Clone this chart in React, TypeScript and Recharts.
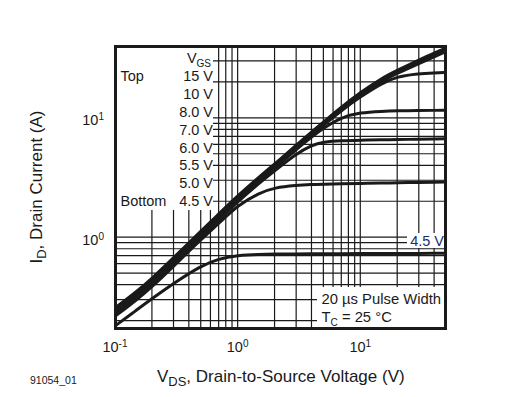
import React from 'react'
import { LineChart, Line, XAxis, YAxis, ReferenceLine } from 'recharts'

const FONT = '"Liberation Sans", Arial, Helvetica, sans-serif'
const INK = '#1a1a1a'

// drain-source voltage (V)
const VDS = [0.1, 0.15, 0.2, 0.3, 0.5, 0.7, 1, 1.5, 2, 3, 4, 5, 7, 10, 15, 20, 30, 40, 50]

// drain current (A) for each gate voltage
const ID_15V = [0.255, 0.35, 0.45, 0.67, 1.12, 1.56, 2.22, 3.2, 4.1, 5.9, 7.6, 9.2, 12.3, 16.3, 21.5, 25, 30.5, 35, 38.5]
const ID_10V = [0.25, 0.343, 0.441, 0.657, 1.098, 1.53, 2.18, 3.14, 4.02, 5.78, 7.45, 9.0, 12.05, 16.0, 21.0, 24.4, 29.6, 33.8, 37.2]
const ID_8V = [0.245, 0.336, 0.432, 0.643, 1.075, 1.5, 2.13, 3.07, 3.94, 5.66, 7.3, 8.83, 11.8, 15.6, 20.4, 23.6, 28.5, 32.5, 36]
const ID_7V = [0.24, 0.329, 0.423, 0.63, 1.053, 1.466, 2.09, 3.01, 3.85, 5.55, 7.14, 8.65, 11.5, 15.0, 19.5, 22.2, 23.5, 23.8, 24]
const ID_6V = [0.235, 0.322, 0.414, 0.616, 1.03, 1.435, 2.04, 2.94, 3.77, 5.43, 6.9, 8.2, 10.1, 11.1, 11.35, 11.45, 11.5, 11.55, 11.6]
const ID_55V = [0.227, 0.312, 0.4, 0.596, 0.997, 1.39, 1.98, 2.85, 3.6, 5.0, 5.9, 6.3, 6.45, 6.5, 6.55, 6.58, 6.62, 6.66, 6.7]
const ID_5V = [0.217, 0.298, 0.383, 0.57, 0.95, 1.3, 1.85, 2.35, 2.6, 2.72, 2.76, 2.78, 2.8, 2.82, 2.84, 2.86, 2.88, 2.89, 2.9]
const ID_45V = [0.18, 0.245, 0.305, 0.41, 0.575, 0.66, 0.705, 0.718, 0.722, 0.724, 0.725, 0.726, 0.727, 0.728, 0.729, 0.73, 0.731, 0.733, 0.735]

const SERIES = [
  { key: 'v15', values: ID_15V },
  { key: 'v10', values: ID_10V },
  { key: 'v8', values: ID_8V },
  { key: 'v7', values: ID_7V },
  { key: 'v6', values: ID_6V },
  { key: 'v55', values: ID_55V },
  { key: 'v5', values: ID_5V },
  { key: 'v45', values: ID_45V },
]

const X_TICKS = [0.1, 1, 10]
const Y_TICKS = [1, 10]
const X_GRID = [0.2, 0.3, 0.4, 0.5, 0.6, 0.7, 0.8, 0.9, 1, 2, 3, 4, 5, 6, 7, 8, 9, 10, 20, 30, 40]
const Y_GRID = [0.2, 0.3, 0.4, 0.5, 0.6, 0.7, 0.8, 0.9, 1, 2, 3, 4, 5, 6, 7, 8, 9, 10, 20, 30]

const VGS_LABELS = ['15 V', '10 V', '8.0 V', '7.0 V', '6.0 V', '5.5 V', '5.0 V', '4.5 V']

const PowerTick = (props: any) => {
  const { x, y, payload, axis } = props
  const exp = Math.round(Math.log10(payload.value))
  const isX = axis === 'x'
  return (
    <text
      x={isX ? x : x - 9}
      y={isX ? y + 21 : y + 7.5}
      textAnchor={isX ? 'middle' : 'end'}
      fontFamily={FONT}
      fontSize={14.5}
      fill={INK}
    >
      <tspan>10</tspan>
      <tspan dy={-5} fontSize={10}>{exp}</tspan>
    </text>
  )
}

const sub = (size: number, drop: number): React.CSSProperties => ({
  fontSize: size,
  position: 'relative',
  top: drop,
})

export default function App() {
  const data = VDS.map((v, i) => {
    const row: Record<string, number> = { vds: v }
    SERIES.forEach(s => { row[s.key] = s.values[i] })
    return row
  })

  const abs = (left: number, top: number, extra: React.CSSProperties = {}): React.CSSProperties => ({
    position: 'absolute', left, top, whiteSpace: 'nowrap', lineHeight: '17px', ...extra,
  })

  return (
    <div style={{ position: 'absolute', left: 0, top: 0, width: 508, height: 397, background: '#fff', fontFamily: FONT, color: INK, fontSize: 14.5 }}>
      <LineChart width={508} height={397} data={data} margin={{ top: 46, right: 62, bottom: 28, left: 65 }}>
        <XAxis
          dataKey="vds"
          type="number"
          scale="log"
          domain={[0.1, 50]}
          ticks={X_TICKS}
          interval={0}
          allowDataOverflow
          axisLine={false}
          tickLine={false}
          tickSize={0}
          height={40}
          tick={(p: any) => <PowerTick {...p} axis="x" />}
        />
        <YAxis
          type="number"
          scale="log"
          domain={[0.17, 40]}
          ticks={Y_TICKS}
          interval={0}
          allowDataOverflow
          axisLine={false}
          tickLine={false}
          tickSize={0}
          width={50}
          tick={(p: any) => <PowerTick {...p} axis="y" />}
        />
        {X_GRID.map(v => (
          <ReferenceLine key={'gx' + v} x={v} stroke={INK} strokeWidth={1.2} />
        ))}
        {Y_GRID.map(v => (
          <ReferenceLine key={'gy' + v} y={v} stroke={INK} strokeWidth={1.2} />
        ))}
        {SERIES.map(s => (
          <Line
            key={s.key}
            dataKey={s.key}
            type="basis"
            stroke={INK}
            strokeWidth={3}
            dot={false}
            isAnimationActive={false}
          />
        ))}
      </LineChart>

      {/* label panel, top left */}
      <div style={{ position: 'absolute', left: 117, top: 48, width: 96, height: 162, background: '#fff' }} />
      <div style={abs(120, 49.5, { width: 91, textAlign: 'right' })}>
        V<span style={sub(10, 4)}>GS</span>
      </div>
      {VGS_LABELS.map((t, i) => (
        <div key={t} style={abs(150, 68.3 + i * 17.8, { width: 63, textAlign: 'right' })}>{t}</div>
      ))}
      <div style={abs(120.5, 68.3)}>Top</div>
      <div style={abs(120.5, 68.3 + 7 * 17.8)}>Bottom</div>

      {/* right side label */}
      <div style={{ position: 'absolute', left: 407, top: 233, width: 37, height: 15, background: '#fff' }} />
      <div style={abs(407, 232.5, { width: 37, textAlign: 'right', color: '#1c2e6e' })}>4.5 V</div>

      {/* conditions box */}
      <div style={{ position: 'absolute', left: 317, top: 287, width: 128, height: 41, background: '#fff' }} />
      <div style={abs(321.5, 290.5, { fontSize: 14.8 })}>20 µs Pulse Width</div>
      <div style={abs(321.5, 308.5, { fontSize: 14.8 })}>
        T<span style={sub(10, 4)}>C</span> = 25 °C
      </div>

      {/* plot frame */}
      <div style={{ position: 'absolute', left: 114, top: 45, width: 333, height: 285, border: `3px solid ${INK}`, boxSizing: 'border-box' }} />

      {/* axis titles */}
      <div style={abs(280.8, 377, { fontSize: 17, transform: 'translate(-50%, -50%)', lineHeight: '20px' })}>
        V<span style={sub(13, 4)}>DS</span>, Drain-to-Source Voltage (V)
      </div>
      <div style={abs(37, 187, { fontSize: 17, transform: 'translate(-50%, -50%) rotate(-90deg)', lineHeight: '20px' })}>
        I<span style={sub(13, 4)}>D</span>, Drain Current (A)
      </div>
      <div style={abs(30, 372, { fontSize: 10.5 })}>91054_01</div>
    </div>
  )
}
